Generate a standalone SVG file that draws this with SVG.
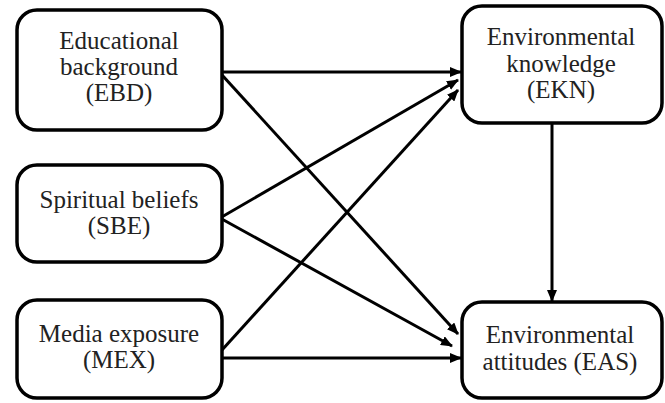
<svg xmlns="http://www.w3.org/2000/svg" width="665" height="403" viewBox="0 0 665 403">
<style>
.box{fill:#fff;stroke:#000;stroke-width:3.5}
.t{font-family:"Liberation Serif","Times New Roman",serif;font-size:25px;fill:#222;text-anchor:middle}
.c{stroke:#000;stroke-width:3;fill:none;marker-end:url(#ah)}
</style>
<defs>
<marker id="ah" viewBox="0 0 12 10" refX="11" refY="5" markerWidth="12" markerHeight="10" markerUnits="userSpaceOnUse" orient="auto">
<path d="M0,0 L12,5 L0,10 Z" fill="#000"/>
</marker>
</defs>
<g id="connectors">
<line class="c" x1="222" y1="72" x2="461" y2="72"/>
<line class="c" x1="222" y1="75" x2="458" y2="334"/>
<line class="c" x1="220" y1="218" x2="458" y2="80"/>
<line class="c" x1="220" y1="218" x2="452" y2="346"/>
<line class="c" x1="222" y1="350" x2="458" y2="90"/>
<line class="c" x1="222" y1="358" x2="461" y2="358"/>
<line class="c" x1="552" y1="123" x2="552" y2="301"/>
</g>
<g id="EBD">
<rect class="box" x="17" y="10" width="205" height="120" rx="20"/>
<text class="t" x="119" y="49">Educational</text>
<text class="t" x="119" y="75">background</text>
<text class="t" x="119" y="101">(EBD)</text>
</g>
<g id="SBE">
<rect class="box" x="17" y="165" width="205" height="97" rx="20"/>
<text class="t" x="119" y="208">Spiritual beliefs</text>
<text class="t" x="119" y="234">(SBE)</text>
</g>
<g id="MEX">
<rect class="box" x="17" y="300" width="205" height="98" rx="20"/>
<text class="t" x="119" y="342">Media exposure</text>
<text class="t" x="119" y="368">(MEX)</text>
</g>
<g id="EKN">
<rect class="box" x="462" y="6" width="200" height="117" rx="20"/>
<text class="t" x="561" y="45">Environmental</text>
<text class="t" x="561" y="72">knowledge</text>
<text class="t" x="561" y="98">(EKN)</text>
</g>
<g id="EAS">
<rect class="box" x="462" y="302" width="200" height="96" rx="20"/>
<text class="t" x="560" y="343">Environmental</text>
<text class="t" x="560" y="370">attitudes (EAS)</text>
</g>
</svg>
